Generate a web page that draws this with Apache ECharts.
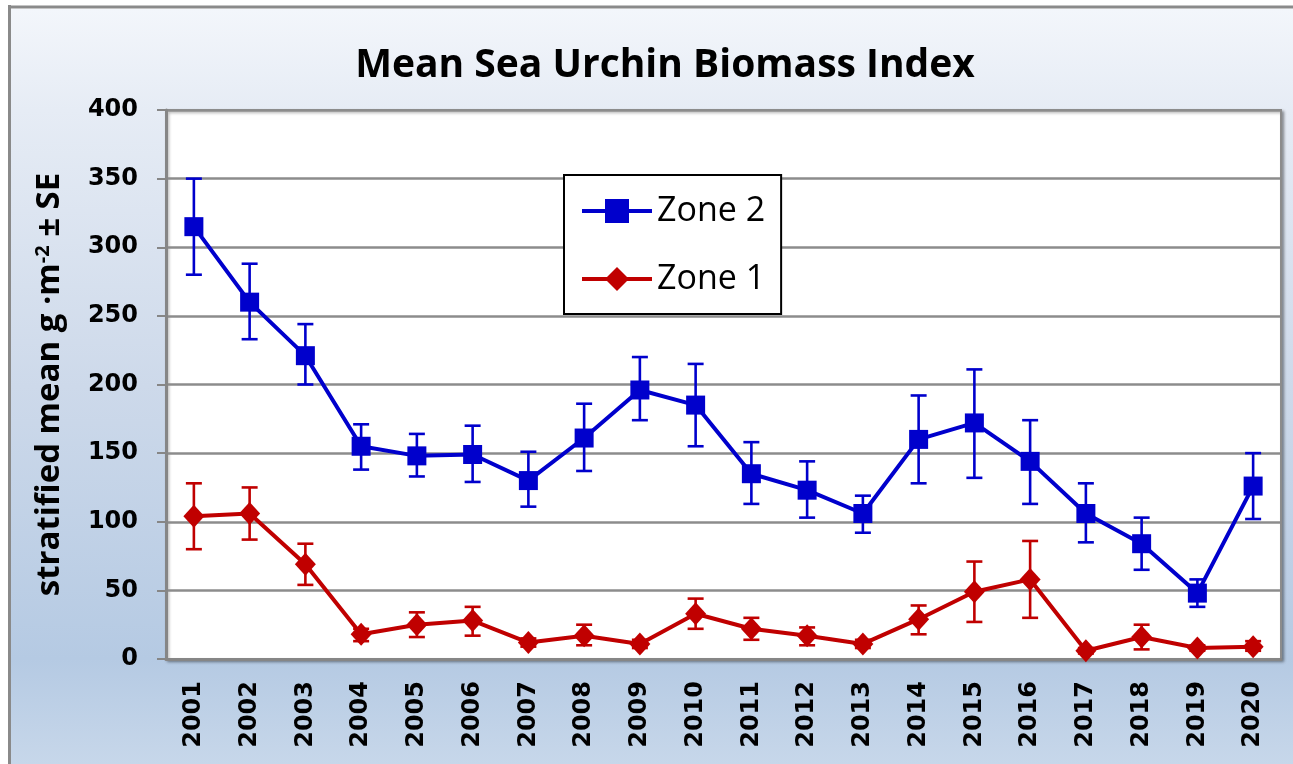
<!DOCTYPE html>
<html>
<head>
<meta charset="utf-8">
<script src="https://cdn.jsdelivr.net/npm/echarts@6/dist/echarts.min.js"></script>
<style>
  html, body { margin: 0; padding: 0; background: #fff; }
  #chart { width: 1293px; height: 764px; }
</style>
</head>
<body>
<div id="chart"></div>
<script>
// values (stratified mean g/m2, +/- SE)
var years = ['2001', '2002', '2003', '2004', '2005', '2006', '2007', '2008', '2009', '2010',
             '2011', '2012', '2013', '2014', '2015', '2016', '2017', '2018', '2019', '2020'];
var zone2Mean  = [315, 260, 221, 155, 148, 149, 130, 161, 196, 185, 135, 123, 106, 160, 172, 144, 106, 84, 48, 126];
var zone2Upper = [350, 288, 244, 171, 164, 170, 151, 186, 220, 215, 158, 144, 119, 192, 211, 174, 128, 103, 58, 150];
var zone2Lower = [280, 233, 200, 138, 133, 129, 111, 137, 174, 155, 113, 103, 92, 128, 132, 113, 85, 65, 38, 102];
var zone1Mean  = [104, 106, 69, 18, 25, 28, 12, 17, 11, 33, 22, 17, 11, 29, 49, 58, 6, 16, 8, 9];
var zone1Upper = [128, 125, 84, 22, 34, 38, 15, 25, 14, 44, 30, 23, 14, 39, 71, 86, 8, 25, 10, 13];
var zone1Lower = [80, 87, 54, 13, 16, 17, 9, 10, 8, 22, 14, 10, 8, 18, 27, 30, 4, 7, 6, 6];
var yTicks = { min: 0, max: 400, interval: 50 };

var blue = '#0000cc';
var red = '#c00000';
var gridGray = '#8c8c8c';

function errData(lower, upper) {
    var out = [];
    for (var i = 0; i < lower.length; i++) {
        out.push([i, lower[i], upper[i]]);
    }
    return out;
}

function errorBars(color) {
    return function (params, api) {
        var i = api.value(0);
        var lo = api.coord([i, api.value(1)]);
        var hi = api.coord([i, api.value(2)]);
        var hw = 8;
        var style = { stroke: color, lineWidth: 2.6 };
        return {
            type: 'group',
            children: [
                { type: 'line', shape: { x1: lo[0], y1: lo[1], x2: hi[0], y2: hi[1] }, style: style },
                { type: 'line', shape: { x1: hi[0] - hw, y1: hi[1], x2: hi[0] + hw, y2: hi[1] }, style: style },
                { type: 'line', shape: { x1: lo[0] - hw, y1: lo[1], x2: lo[0] + hw, y2: lo[1] }, style: style }
            ]
        };
    };
}

var chart = echarts.init(document.getElementById('chart'));

var option = {
    backgroundColor: '#ffffff',
    animation: false,
    graphic: [
        {
            type: 'rect', z: -10, silent: true,
            shape: { x: 11, y: 9, width: 1282, height: 755 },
            style: {
                fill: new echarts.graphic.LinearGradient(0, 0, 0, 1, [
                    { offset: 0, color: '#f3f6fb' },
                    { offset: 0.134, color: '#e6ecf5' },
                    { offset: 0.5, color: '#cdd9ea' },
                    { offset: 0.861, color: '#b5cae3' },
                    { offset: 1, color: '#c7d7ea' }
                ])
            }
        },
        { type: 'line', z: -9, silent: true, shape: { x1: 9.5, y1: 5, x2: 9.5, y2: 764 }, style: { stroke: '#8a8a8a', lineWidth: 3 } },
        { type: 'line', z: -9, silent: true, shape: { x1: 8, y1: 7, x2: 1293, y2: 7 }, style: { stroke: '#8a8a8a', lineWidth: 3 } }
    ],
    title: {
        text: 'Mean Sea Urchin Biomass Index',
        left: 660,
        textAlign: 'center',
        top: 41,
        textStyle: {
            fontFamily: 'Open Sans',
            fontWeight: 'bold',
            fontSize: 39,
            color: '#000'
        }
    },
    legend: {
        data: ['Zone 2', 'Zone 1'],
        orient: 'vertical',
        left: 564,
        top: 175,
        padding: [16, 16, 15, 16],
        itemGap: 28,
        itemWidth: 70,
        itemHeight: 30,
        backgroundColor: '#ffffff',
        borderColor: '#000000',
        borderWidth: 2,
        lineStyle: { width: 4 },
        textStyle: {
            fontFamily: 'Open Sans',
            fontSize: 34,
            lineHeight: 40,
            color: '#000'
        }
    },
    grid: {
        left: 166,
        top: 110,
        right: 12,
        bottom: 105,
        show: true,
        backgroundColor: '#ffffff',
        borderColor: gridGray,
        borderWidth: 2,
        shadowColor: 'rgba(0,0,0,0.35)',
        shadowBlur: 3,
        shadowOffsetX: 2,
        shadowOffsetY: 2
    },
    xAxis: {
        type: 'category',
        data: years,
        boundaryGap: true,
        axisLine: { lineStyle: { color: '#868686', width: 3 } },
        axisTick: { show: false },
        axisLabel: {
            rotate: 90,
            margin: 22,
            interval: 0,
            fontFamily: 'DejaVu Sans',
            fontWeight: 'bold',
            fontSize: 24,
            color: '#000'
        }
    },
    yAxis: {
        type: 'value',
        min: yTicks.min,
        max: yTicks.max,
        interval: yTicks.interval,
        name: '{a|stratified mean g ·m}{s|-2}{a| ± SE}',
        nameLocation: 'middle',
        nameGap: 100,
        nameTextStyle: {
            rich: {
                a: { fontFamily: 'Open Sans', fontWeight: 'bold', fontSize: 33, color: '#000' },
                s: { fontFamily: 'Open Sans', fontWeight: 'bold', fontSize: 20, color: '#000', verticalAlign: 'top' }
            }
        },
        axisLine: { show: true, lineStyle: { color: '#868686', width: 3 } },
        axisTick: { show: true, inside: false, length: 9, lineStyle: { color: '#868686', width: 2 } },
        splitLine: { lineStyle: { color: gridGray, width: 2.5 } },
        axisLabel: {
            margin: 28,
            fontFamily: 'DejaVu Sans',
            fontWeight: 'bold',
            fontSize: 24,
            color: '#000'
        }
    },
    series: [
        {
            name: 'Zone 2 SE',
            type: 'custom',
            renderItem: errorBars(blue),
            data: errData(zone2Lower, zone2Upper),
            encode: { x: 0, y: [1, 2] },
            z: 3
        },
        {
            name: 'Zone 1 SE',
            type: 'custom',
            renderItem: errorBars(red),
            data: errData(zone1Lower, zone1Upper),
            encode: { x: 0, y: [1, 2] },
            z: 3
        },
        {
            name: 'Zone 2',
            type: 'line',
            data: zone2Mean,
            symbol: 'rect',
            symbolSize: 19,
            showAllSymbol: true,
            color: blue,
            lineStyle: { color: blue, width: 4 },
            itemStyle: { color: blue },
            z: 4
        },
        {
            name: 'Zone 1',
            type: 'line',
            data: zone1Mean,
            symbol: 'diamond',
            symbolSize: [21, 23],
            showAllSymbol: true,
            color: red,
            lineStyle: { color: red, width: 4 },
            itemStyle: { color: red },
            z: 4
        }
    ]
};

chart.setOption(option);
</script>
</body>
</html>
